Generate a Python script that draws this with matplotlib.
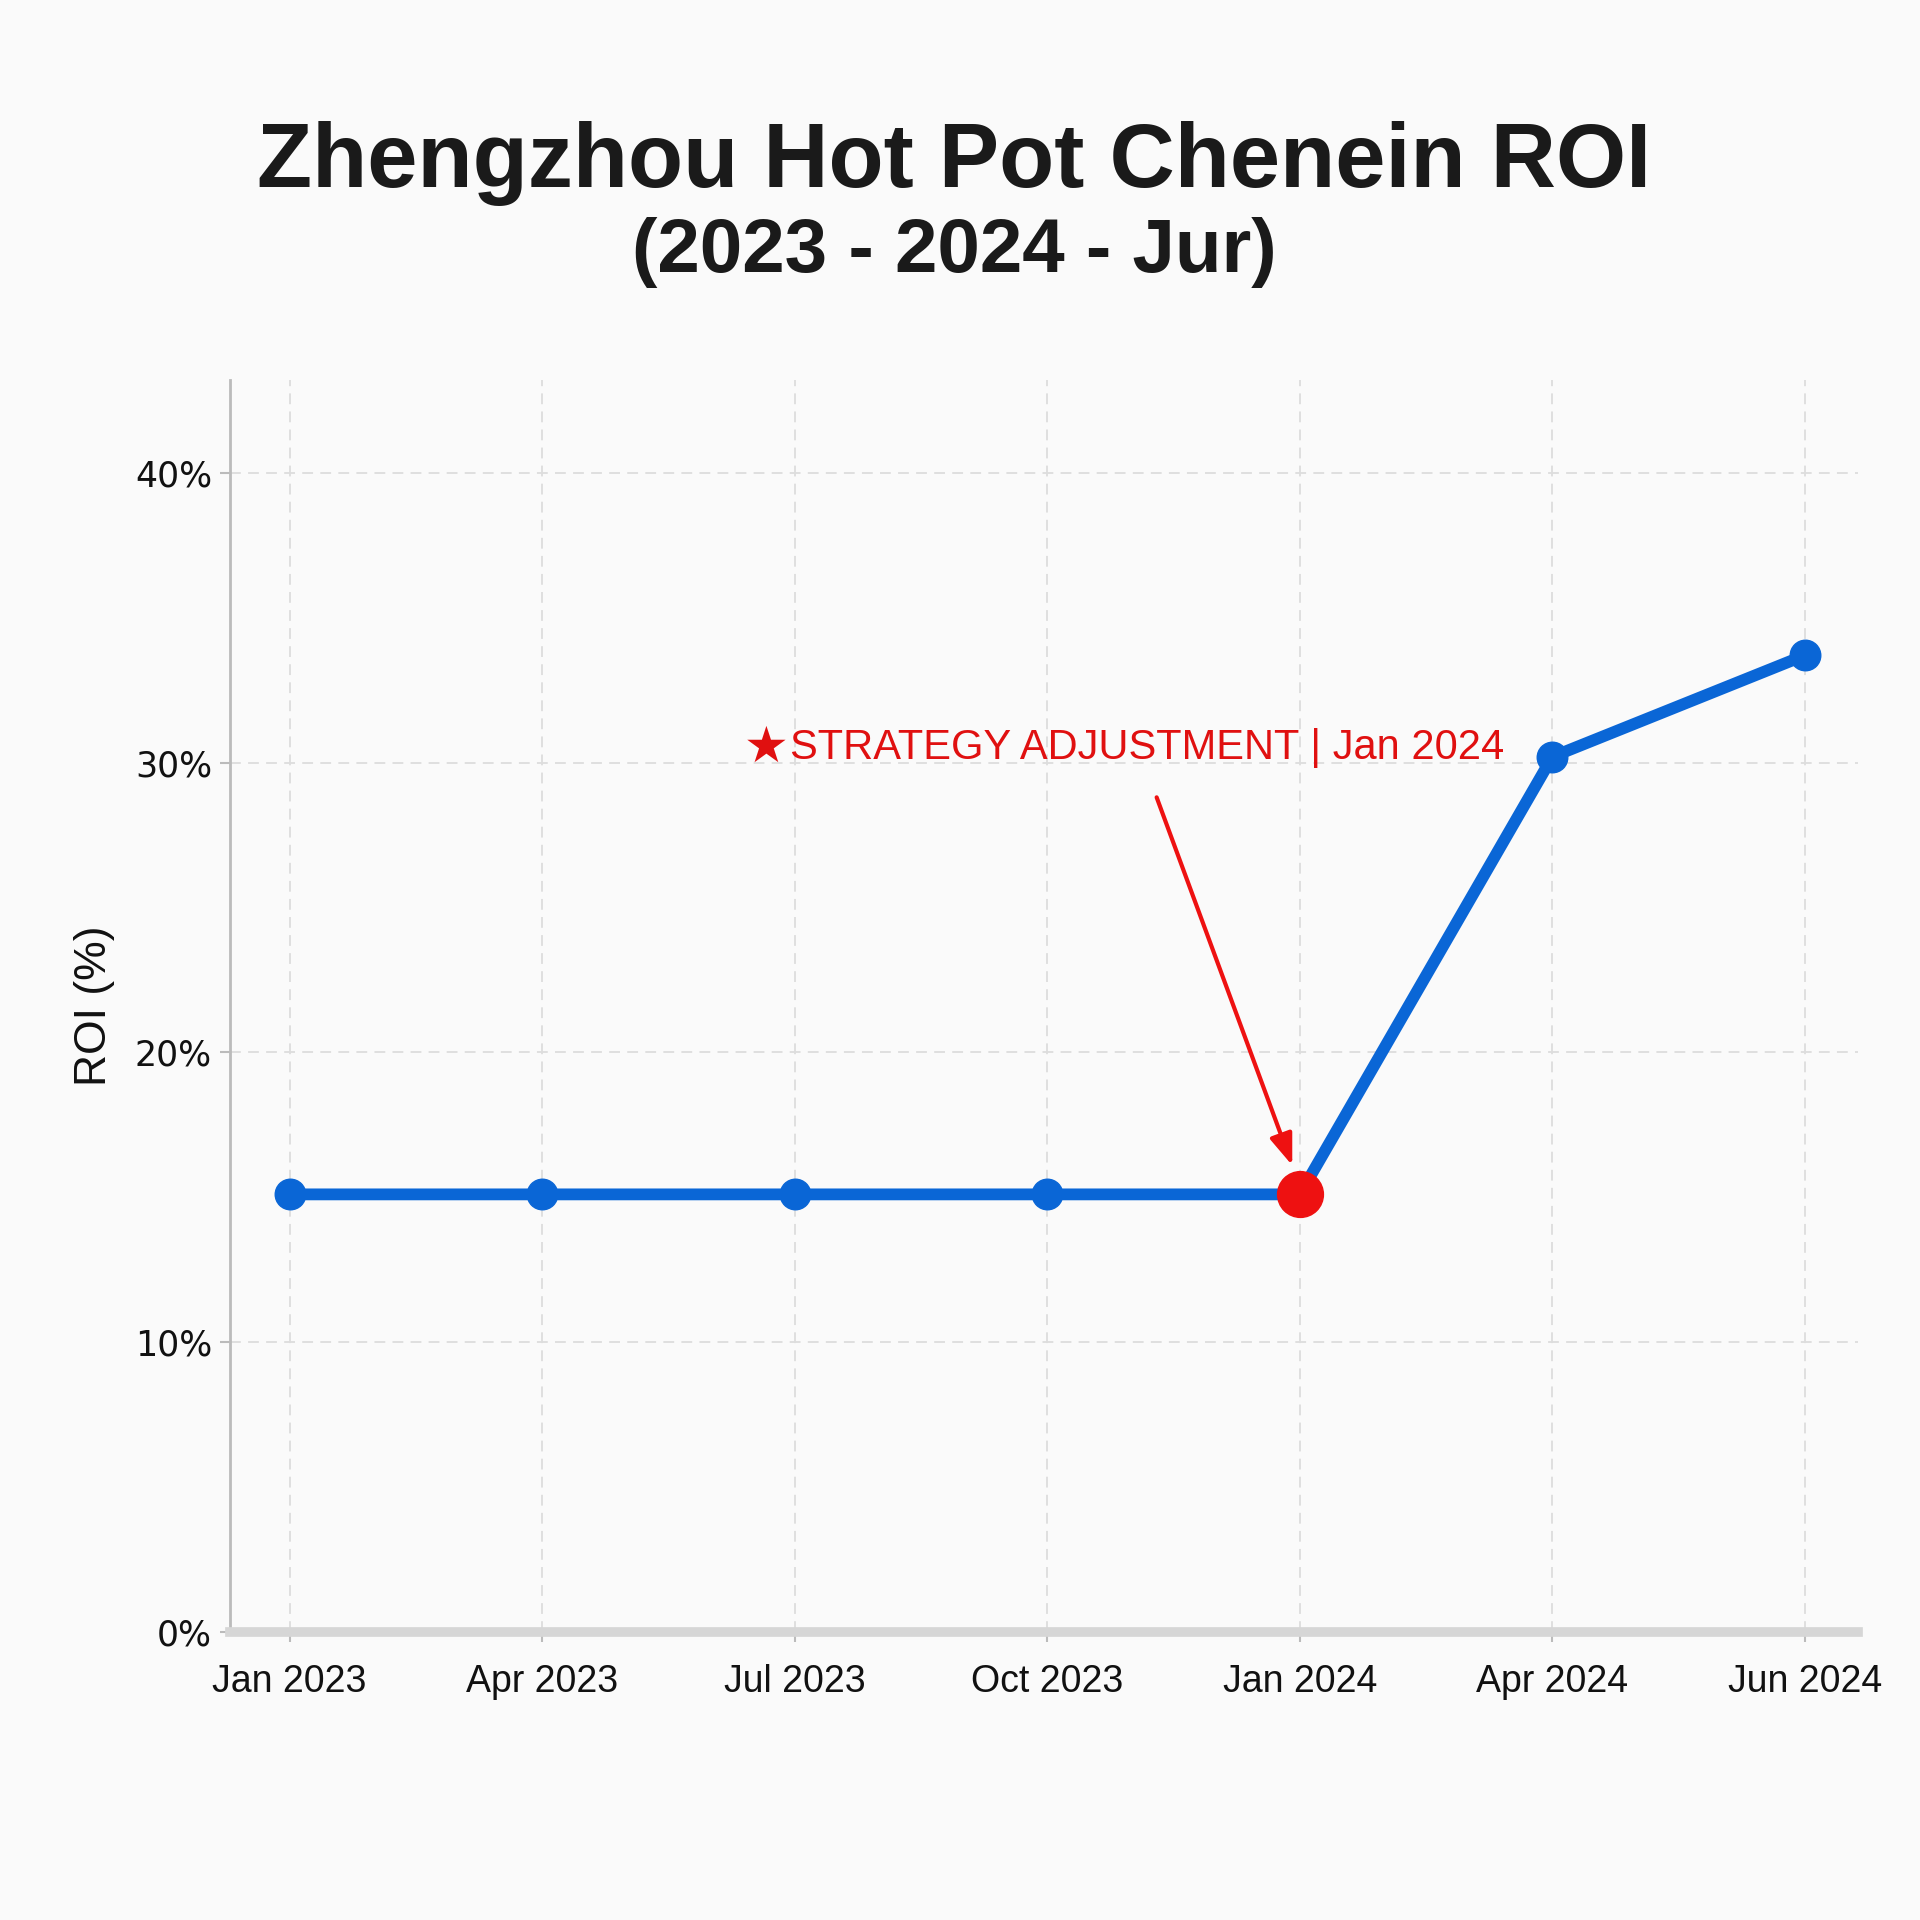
import matplotlib
matplotlib.use("Agg")
import matplotlib.pyplot as plt

months = ["Jan 2023", "Apr 2023", "Jul 2023", "Oct 2023", "Jan 2024", "Apr 2024", "Jun 2024"]
roi = [15.1, 15.1, 15.1, 15.1, 15.1, 30.2, 33.7]
yticks = [0, 10, 20, 30, 40]
highlight_idx = 4
annot_text = "STRATEGY ADJUSTMENT | Jan 2024"

plt.rcParams['font.family'] = ['Liberation Sans', 'DejaVu Sans']

fig = plt.figure(figsize=(19.2, 19.2), dpi=100, facecolor='#fafafa')
ax = fig.add_axes([230/1920, 1 - 1632/1920, (1858-230)/1920, (1632-380)/1920])
ax.set_facecolor('#fafafa')

x = list(range(len(months)))
ax.plot(x, roi, color='#0a66d6', lw=8.5, marker='o', ms=22, mfc='#0a66d6', mec='#0a66d6',
        solid_capstyle='round', zorder=3)
xh, yh = x[highlight_idx], roi[highlight_idx]
ax.plot([xh], [yh], 'o', color='#ee1111', ms=33, zorder=4)

ax.set_xlim(-0.236, 6.21)
ax.set_ylim(0, 43.2)
ax.set_xticks(x)
ax.set_xticklabels(months, fontsize=27)
ax.set_yticks(yticks)
ax.set_yticklabels([f"{v}%" for v in yticks], fontsize=25, family='DejaVu Sans')
ax.tick_params(axis='both', colors='#bbbbbb', labelcolor='#111111', length=7, width=1.5)
ax.tick_params(axis='x', pad=16)
ax.tick_params(axis='y', pad=6)

ax.grid(True, color='#dddddd', linestyle=(0, (6, 4)), lw=1.3)
ax.set_axisbelow(True)
for s in ['top', 'right']:
    ax.spines[s].set_visible(False)
ax.spines['left'].set_color('#bbbbbb')
ax.spines['left'].set_linewidth(2)
ax.spines['bottom'].set_color('#d6d6d6')
ax.spines['bottom'].set_linewidth(7)

ax.set_ylabel("ROI (%)", fontsize=32, color='#111111', labelpad=14)

ax.annotate("", xy=(xh - 0.03, yh + 1.0), xytext=(xh - 0.567, 28.8),
            arrowprops=dict(arrowstyle='-|>,head_length=1.9,head_width=0.7', color='#ee1111',
                            lw=3, shrinkA=0, shrinkB=0),
            zorder=5)
ax.text(1.80, 30.5, "\u2605", fontsize=36, color='#e01010', va='center', ha='left',
        family='DejaVu Sans')
ax.text(1.98, 30.5, annot_text, fontsize=30, color='#e01010', va='center', ha='left')

fig.text(0.497, 1 - 163/1920, "Zhengzhou Hot Pot Chenein ROI", fontsize=65, fontweight='bold',
         ha='center', va='center', color='#1a1a1a')
fig.text(0.497, 1 - 252/1920, "(2023 - 2024 - Jur)", fontsize=55, fontweight='bold',
         ha='center', va='center', color='#1a1a1a')

fig.savefig("out.png", dpi=100, facecolor=fig.get_facecolor())
